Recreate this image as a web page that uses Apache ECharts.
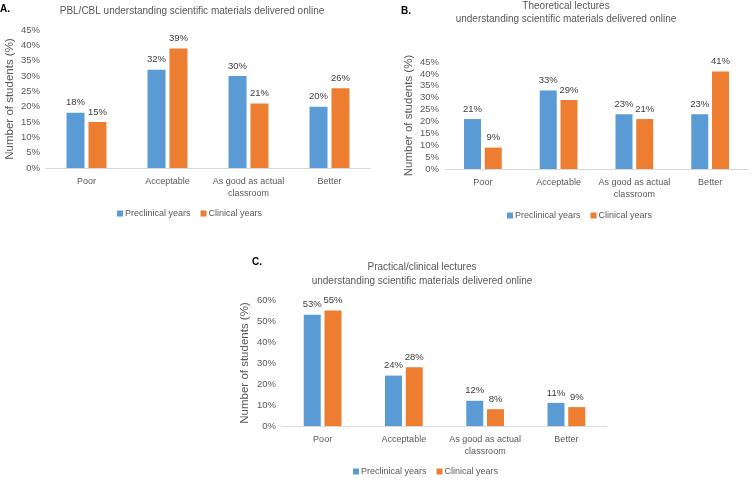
<!DOCTYPE html>
<html>
<head>
<meta charset="utf-8">
<script src="https://cdn.jsdelivr.net/npm/echarts@6/dist/echarts.min.js"></script>
<style>
  html, body { margin: 0; padding: 0; background: #fff; }
  #main { width: 753px; height: 478px; }
</style>
</head>
<body>
<div id="main"></div>
<script>
var categories = ['Poor', 'Acceptable', 'As good as actual\nclassroom', 'Better'];
var seriesNames = ['Preclinical years', 'Clinical years'];

// panel A: PBL/CBL
var pblPreclinical = [18, 32, 30, 20];
var pblClinical = [15, 39, 21, 26];
// panel B: theoretical lectures
var theoPreclinical = [21, 33, 23, 23];
var theoClinical = [9, 29, 21, 41];
// panel C: practical/clinical lectures
var pracPreclinical = [53, 24, 12, 11];
var pracClinical = [55, 28, 8, 9];

var blue = '#5B9BD5';
var orange = '#ED7D31';
var txt = '#595959';
var font = 'Liberation Sans';

var myChart = echarts.init(document.getElementById('main'));

function xAx(i) {
    return {
        type: 'category', gridIndex: i, data: categories,
        axisLine: { lineStyle: { color: '#d9d9d9' } },
        axisTick: { show: false },
        axisLabel: { interval: 0, color: txt, fontSize: 9, fontFamily: font, lineHeight: 12, margin: 8 }
    };
}
function yAx(i, max, step, gap) {
    return {
        type: 'value', gridIndex: i, min: 0, max: max, interval: step,
        name: 'Number of students (%)', nameLocation: 'middle', nameGap: gap,
        nameTextStyle: { color: txt, fontSize: 11.5, fontFamily: font },
        axisLine: { show: false }, axisTick: { show: false },
        splitLine: { show: false },
        axisLabel: { color: txt, fontSize: 9.5, fontFamily: font, formatter: '{value}%', margin: 6 }
    };
}
function bar(name, data, i, color, w) {
    return {
        name: name, type: 'bar', xAxisIndex: i, yAxisIndex: i, data: data,
        barWidth: w, barGap: '22%',
        itemStyle: { color: color },
        label: { show: true, position: 'top', formatter: '{c}%', color: '#404040', fontSize: 9.5, fontFamily: font, distance: 5 }
    };
}
function leg(left, top) {
    return {
        data: seriesNames, left: left, top: top, icon: 'rect', itemWidth: 6, itemHeight: 6, itemGap: 10,
        textStyle: { color: txt, fontSize: 9, fontFamily: font, padding: [0, 0, 0, -3] }
    };
}

var option = {
    animation: false,
    textStyle: { fontFamily: font },
    title: [
        { text: 'A.', left: 0, top: 4, padding: 0, textStyle: { fontSize: 10, fontWeight: 'bold', color: '#000' } },
        { text: 'PBL/CBL understanding scientific materials delivered online', left: 192, top: 5, padding: 0, textAlign: 'center',
          textStyle: { fontSize: 10, fontWeight: 'normal', color: txt, lineHeight: 12 } },
        { text: 'B.', left: 401, top: 6, padding: 0, textStyle: { fontSize: 10, fontWeight: 'bold', color: '#000' } },
        { text: 'Theoretical lectures\nunderstanding scientific materials delivered online', left: 566, top: 0, padding: 0, textAlign: 'center',
          textStyle: { fontSize: 10, fontWeight: 'normal', color: txt, lineHeight: 13 } },
        { text: 'C.', left: 252, top: 257, padding: 0, textStyle: { fontSize: 10, fontWeight: 'bold', color: '#000' } },
        { text: 'Practical/clinical lectures\nunderstanding scientific materials delivered online', left: 422, top: 260, padding: 0, textAlign: 'center',
          textStyle: { fontSize: 10, fontWeight: 'normal', color: txt, lineHeight: 14 } }
    ],
    legend: [leg(112, 204), leg(502, 206), leg(348, 462)],
    grid: [
        { left: 46, right: 383, top: 30, bottom: 310 },
        { left: 445, right: 5, top: 62, bottom: 309 },
        { left: 282, right: 146, top: 300, bottom: 52 }
    ],
    xAxis: [xAx(0), xAx(1), xAx(2)],
    yAxis: [yAx(0, 45, 5, 30), yAx(1, 45, 5, 30), yAx(2, 60, 10, 31)],
    series: [
        bar(seriesNames[0], pblPreclinical, 0, blue, 18),
        bar(seriesNames[1], pblClinical, 0, orange, 18),
        bar(seriesNames[0], theoPreclinical, 1, blue, 17),
        bar(seriesNames[1], theoClinical, 1, orange, 17),
        bar(seriesNames[0], pracPreclinical, 2, blue, 17),
        bar(seriesNames[1], pracClinical, 2, orange, 17)
    ]
};
myChart.setOption(option);
</script>
</body>
</html>
